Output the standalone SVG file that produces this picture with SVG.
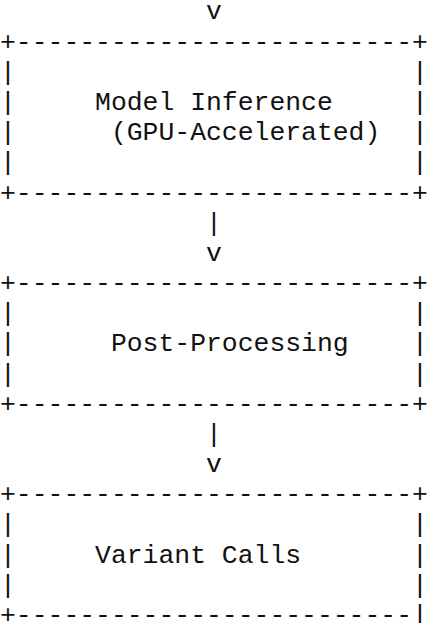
<svg xmlns="http://www.w3.org/2000/svg" width="435" height="623" viewBox="0 0 435 623">
<style>
text { font-family: "Liberation Mono", "Courier New", monospace; font-size: 26.42px; fill: #111; white-space: pre; }
</style>
<rect width="435" height="623" fill="#fff"/>
<g id="connectors">
<text x="206.05" y="19.4">v</text>
<text x="206.05" y="230.7">|</text>
<text x="206.05" y="260.9">v</text>
<text x="206.05" y="441.9">|</text>
<text x="206.05" y="472.1">v</text>
</g>
<g id="model-inference">
<text x="0" y="49.6" xml:space="preserve">+-------------------------+</text>
<text x="0" y="79.8" xml:space="preserve">|                         |</text>
<text x="0" y="109.9" xml:space="preserve">|     Model Inference     |</text>
<text x="0" y="140.1" xml:space="preserve">|      (GPU-Accelerated)  |</text>
<text x="0" y="170.3" xml:space="preserve">|                         |</text>
<text x="0" y="200.5" xml:space="preserve">+-------------------------+</text>
</g>
<g id="post-processing">
<text x="0" y="291.1" xml:space="preserve">+-------------------------+</text>
<text x="0" y="321.3" xml:space="preserve">|                         |</text>
<text x="0" y="351.4" xml:space="preserve">|      Post-Processing    |</text>
<text x="0" y="381.6" xml:space="preserve">|                         |</text>
<text x="0" y="411.8" xml:space="preserve">+-------------------------+</text>
</g>
<g id="variant-calls">
<text x="0" y="502.3" xml:space="preserve">+-------------------------+</text>
<text x="0" y="532.4" xml:space="preserve">|                         |</text>
<text x="0" y="562.6" xml:space="preserve">|     Variant Calls       |</text>
<text x="0" y="592.8" xml:space="preserve">|                         |</text>
<text x="0" y="623" xml:space="preserve">+-------------------------|</text>
</g>
</svg>
